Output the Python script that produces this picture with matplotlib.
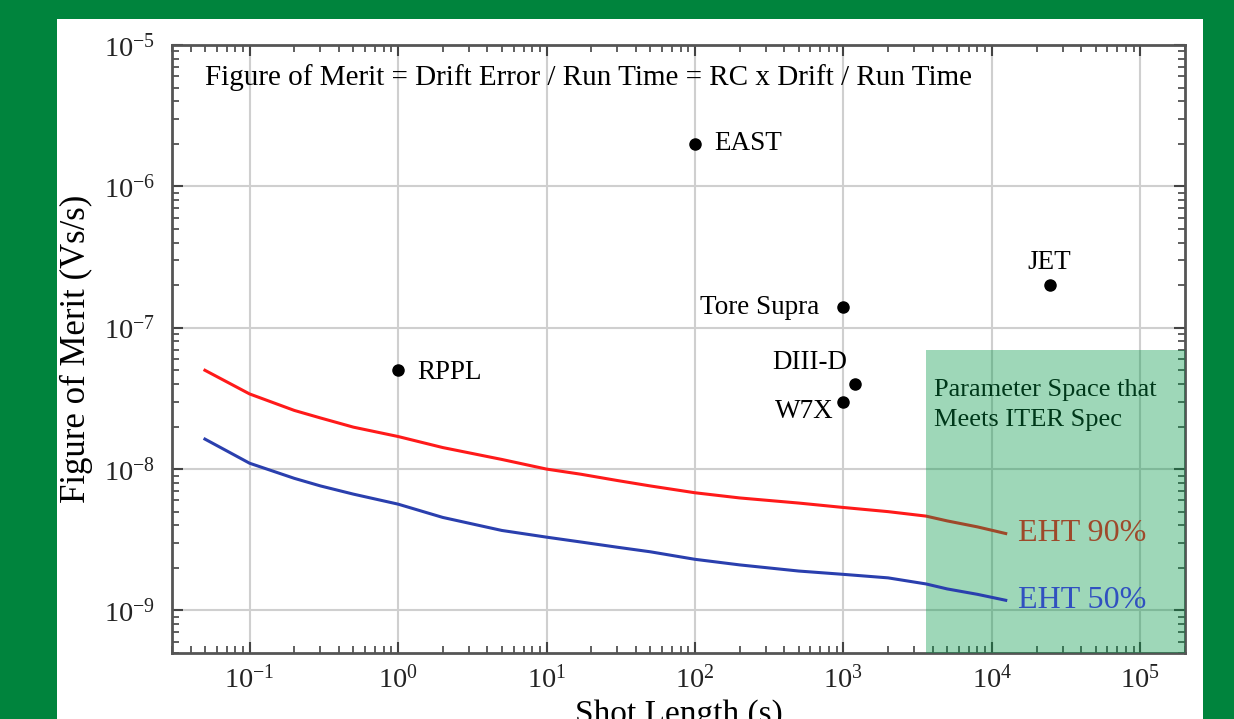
import numpy as np
import matplotlib
matplotlib.use("Agg")
from matplotlib import pyplot as plt
from matplotlib.patches import Rectangle
from matplotlib.ticker import LogLocator, FuncFormatter, NullFormatter

plt.rcParams["font.family"] = ["Liberation Serif", "DejaVu Serif"]
plt.rcParams["mathtext.fontset"] = "custom"
plt.rcParams["mathtext.rm"] = "Liberation Serif"

# EHT curves (shot length s, figure of merit Vs/s)
eht_x = [0.05, 0.1, 0.2, 0.3, 0.5, 1, 2, 5, 10, 17, 30, 50, 100, 200, 500, 1000, 2000, 3600, 5000, 8000, 12400]
eht90 = [5.0e-8, 3.4e-8, 2.6e-8, 2.3e-8, 1.98e-8, 1.7e-8, 1.42e-8, 1.17e-8, 1.0e-8, 9.2e-9, 8.3e-9,
         7.6e-9, 6.8e-9, 6.25e-9, 5.75e-9, 5.35e-9, 5.0e-9, 4.65e-9, 4.3e-9, 3.9e-9, 3.5e-9]
eht50 = [1.63e-8, 1.1e-8, 8.6e-9, 7.6e-9, 6.65e-9, 5.65e-9, 4.55e-9, 3.68e-9, 3.3e-9, 3.05e-9, 2.8e-9,
         2.6e-9, 2.3e-9, 2.1e-9, 1.9e-9, 1.8e-9, 1.7e-9, 1.54e-9, 1.42e-9, 1.3e-9, 1.18e-9]

# machines
machines = ["EAST", "Tore Supra", "JET", "DIII-D", "W7X", "RPPL"]
shot_len = [100, 1000, 2.45e4, 1.2e3, 1000, 1.0]
merit = [2.0e-6, 1.4e-7, 2.0e-7, 4.0e-8, 3.0e-8, 5.0e-8]

fig = plt.figure(figsize=(12.34, 7.19), dpi=100, facecolor="#00843d")
fig.patches.append(Rectangle((57 / 1234, 0), 1146 / 1234, 700 / 719,
                             transform=fig.transFigure, facecolor="white",
                             edgecolor="none", zorder=-5))
ax = fig.add_axes([172 / 1234, 66 / 719, 1013 / 1234, 608 / 719])
ax.set_xscale("log")
ax.set_yscale("log")
ax.set_xlim(0.03, 2e5)
ax.set_ylim(5e-10, 1e-5)

ax.grid(True, which="major", color="#cfcfcf", lw=1.5)
ax.set_axisbelow(True)

ax.plot(eht_x, eht90, color="#ff1a1a", lw=2.2, zorder=2)
ax.plot(eht_x, eht50, color="#2a3fae", lw=2.2, zorder=6)
ax.annotate("EHT 90%", (eht_x[-1], eht90[-1]), xytext=(12, 0), textcoords="offset pixels",
            ha="left", va="center", fontsize=23, color="#ff1a1a", zorder=2)
ax.annotate("EHT 50%", (eht_x[-1], eht50[-1]), xytext=(12, 0), textcoords="offset pixels",
            ha="left", va="center", fontsize=23, color="#3050c0", zorder=6)

ax.plot(shot_len, merit, "o", color="black", ms=8, zorder=3)
offsets = {
    "EAST": ((19, 0), "left"),
    "Tore Supra": ((-24, 0), "right"),
    "JET": ((0, 23), "center"),
    "DIII-D": ((-8, 21), "right"),
    "W7X": ((-10, -10), "right"),
    "RPPL": ((19, -2), "left"),
}
for name, xv, yv in zip(machines, shot_len, merit):
    off, ha = offsets[name]
    ax.annotate(name, (xv, yv), xytext=off, textcoords="offset pixels",
                ha=ha, va="center", fontsize=19.5, zorder=3)

# ITER spec region
ax.fill_between([3.6e3, 2e5], 5e-10, 7e-8, color="#009646", alpha=0.38, lw=0, zorder=5)
ax.text(4.1e3, 2.85e-8, "Parameter Space that\nMeets ITER Spec", fontsize=19,
        ha="left", va="center", linespacing=1.5, color="black", zorder=4)

ax.text(0.033, 0.947, "Figure of Merit = Drift Error / Run Time = RC x Drift / Run Time",
        transform=ax.transAxes, fontsize=21, ha="left", va="center")

fmt = FuncFormatter(lambda v, _: r"$\mathregular{10^{%d}}$" % int(round(np.log10(v))))
ax.xaxis.set_major_locator(LogLocator(base=10, numticks=20))
ax.yaxis.set_major_locator(LogLocator(base=10, numticks=20))
ax.xaxis.set_minor_locator(LogLocator(base=10, subs=np.arange(2, 10), numticks=20))
ax.yaxis.set_minor_locator(LogLocator(base=10, subs=np.arange(2, 10), numticks=20))
ax.xaxis.set_major_formatter(fmt)
ax.yaxis.set_major_formatter(fmt)
ax.xaxis.set_minor_formatter(NullFormatter())
ax.yaxis.set_minor_formatter(NullFormatter())
ax.tick_params(which="both", direction="in", top=True, right=True, colors="#444444",
               labelcolor="#222222", labelsize=20.5)
ax.tick_params(which="major", length=8, width=1.5)
ax.tick_params(which="minor", length=5, width=1.2)
ax.tick_params(axis="x", pad=9)
ax.tick_params(axis="y", pad=12)
for s in ax.spines.values():
    s.set_color("#555555")
    s.set_linewidth(2)

ax.set_xlabel("Shot Length (s)", fontsize=24, labelpad=4)
ax.set_ylabel("Figure of Merit (Vs/s)", fontsize=25, labelpad=8)

fig.savefig("out.png", dpi=100, facecolor=fig.get_facecolor())
